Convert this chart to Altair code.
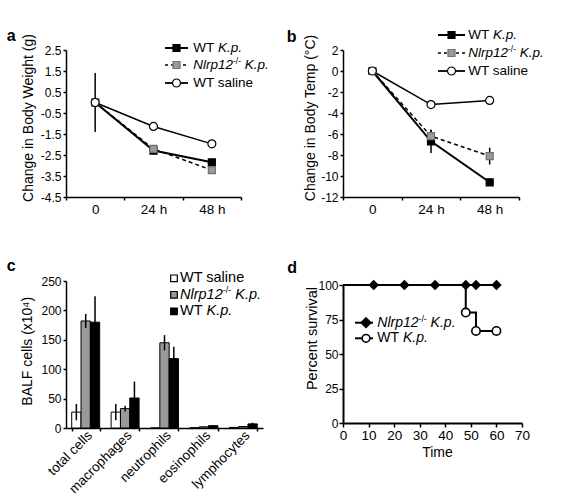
import altair as alt
import pandas as pd

FONT = "Liberation Sans"

# ---------------- data ----------------
time_labels = ["0", "24 h", "48 h"]

weight_wt_kp = [0.0, -2.29, -2.85]
weight_wt_kp_err = [0.0, 0.15, 0.15]
weight_nlrp = [0.0, -2.21, -3.22]
weight_nlrp_err = [0.0, 0.12, 0.12]
weight_saline = [0.0, -1.14, -1.97]
weight_saline_err = [1.4, 0.05, 0.05]

temp_wt_kp = [0.0, -6.7, -10.6]
temp_wt_kp_err = [0.0, 1.1, 0.3]
temp_nlrp = [0.0, -6.2, -8.1]
temp_nlrp_err = [0.0, 0.6, 0.8]
temp_saline = [0.0, -3.2, -2.8]
temp_saline_err = [0.15, 0.1, 0.1]

cell_types = ["total cells", "macrophages", "neutrophils", "eosinophils", "lymphocytes"]
group_order = ["WT saline", "Nlrp12-/- K.p.", "WT K.p."]
balf_saline = [27, 27, 0, 0.5, 1]
balf_saline_err = [14, 14, 0, 0, 0]
balf_nlrp = [182, 33, 145, 2, 2.5]
balf_nlrp_err = [12, 5, 13, 0.5, 0.5]
balf_wt_kp = [180, 51, 118, 4, 7]
balf_wt_kp_err = [44, 28, 20, 1, 2]

surv_nlrp_time = [0, 12, 24, 36, 48, 52, 60]
surv_nlrp = [100, 100, 100, 100, 100, 100, 100]
surv_nlrp_marker = [0, 1, 1, 1, 1, 1, 1]
surv_wt_time = [0, 48, 52, 60]
surv_wt = [100, 80, 66.7, 66.7]
surv_wt_marker = [0, 1, 1, 1]

weight_ticks = [-4.5, -3.5, -2.5, -1.5, -0.5, 0.5, 1.5, 2.5]
temp_ticks = [-12, -10, -8, -6, -4, -2, 0, 2]
balf_ticks = [0, 50, 100, 150, 200, 250]
surv_yticks = [0, 25, 50, 75, 100]
surv_xticks = [0, 10, 20, 30, 40, 50, 60, 70]

# ---------------- helpers ----------------
dummy = alt.Data(values=[{"k": 1}])
ADV = {'N': 722, 'l': 222, 'r': 333, 'p': 556, '1': 556, '2': 556, '-': 333, '/': 278,
       'K': 667, '.': 278, ' ': 278, 'W': 944, 'T': 611, 's': 500, 'a': 556, 'i': 222,
       'n': 556, 'e': 556}


def tw(s, fs):
    return sum(ADV.get(c, 556) for c in s) / 1000.0 * fs


LBL_WT_KP = [("WT", False, False, 0), ("K.p.", True, False, 1)]
LBL_NLRP = [("Nlrp12", True, False, 0), ("-/-", False, True, 0), ("K.p.", True, False, 1)]
LBL_SAL = [("WT saline", False, False, 0)]


def rich_text(parts, x0, y, fs):
    layers = []
    x = x0
    for txt, italic, sup, gap in parts:
        x += gap * 0.278 * fs
        size = fs * 0.62 if sup else fs
        yy = y - fs * 0.3 if sup else y
        layers.append(
            alt.Chart(dummy).mark_text(
                text=txt, align="left", baseline="middle", font=FONT, fontSize=size,
                fontStyle="italic" if italic else "normal", color="black"
            ).encode(x=alt.value(x), y=alt.value(yy))
        )
        x += tw(txt, size)
    return layers


def panel_label(txt, x, y):
    return alt.Chart(dummy).mark_text(
        text=txt, align="left", baseline="alphabetic", font=FONT, fontSize=16,
        fontWeight="bold", color="black"
    ).encode(x=alt.value(x), y=alt.value(y))


def seg(x1, x2, y, dash=None, width=1.8):
    kw = dict(color="black", strokeWidth=width)
    if dash:
        kw["strokeDash"] = dash
    return alt.Chart(dummy).mark_rule(**kw).encode(
        x=alt.value(x1), x2=alt.value(x2), y=alt.value(y))


def marker(x, y, shape, fill, stroke, size, sw=1.2):
    return alt.Chart(dummy).mark_point(
        shape=shape, filled=True, fill=fill, stroke=stroke, strokeWidth=sw,
        size=size, opacity=1
    ).encode(x=alt.value(x), y=alt.value(y))


STYLE = {
    "wt": dict(line=dict(color="black", strokeWidth=2.0),
               pt=dict(shape="square", fill="black", stroke="black", size=49)),
    "nl": dict(line=dict(color="black", strokeWidth=1.5, strokeDash=[4, 3]),
               pt=dict(shape="square", fill="#9a9a9a", stroke="#707070", size=49)),
    "sal": dict(line=dict(color="black", strokeWidth=1.5),
                pt=dict(shape="circle", fill="white", stroke="black", size=64)),
}

AX = dict(labelFont=FONT, titleFont=FONT, labelColor="black", titleColor="black",
          domainColor="black", tickColor="black", grid=False, titleFontWeight="normal")


def line_panel(series, ydom, yticks, ytitle, tx, ty, leg_rows, leg_x, label, lab_xy, w, h):
    rows = []
    for key, vals, errs in series:
        for i, (t, v, e) in enumerate(zip(time_labels, vals, errs)):
            rows.append(dict(series=key, t=i, time=t, value=v, lo=v - e, hi=v + e, err=e))
    df = pd.DataFrame(rows)
    xax = alt.Axis(title=None, labelAngle=0, tickBand="extent", labelFontSize=13.5,
                   tickSize=3, labelPadding=2, domainWidth=1.5, tickWidth=1.5, **AX)
    yax = alt.Axis(title=ytitle, values=yticks, labelExpr="datum.value + ''",
                   labelFontSize=12, tickSize=3, labelPadding=2, titleFontSize=14,
                   titleX=tx, titleY=ty, titleBaseline="alphabetic", titleAlign="center",
                   domainWidth=1.5, tickWidth=1.5, **AX)
    xs = alt.Scale(paddingInner=0, paddingOuter=0)
    ys = alt.Scale(domain=ydom, nice=False, zero=False)
    X = alt.X("time:N", sort=time_labels, bandPosition=0.5, scale=xs, axis=xax)
    layers = []
    for key in ["wt", "nl", "sal"]:
        sub = alt.Chart(df).transform_filter(alt.datum.series == key)
        layers.append(sub.mark_line(**STYLE[key]["line"]).encode(
            x=X, y=alt.Y("value:Q", scale=ys, axis=yax), order="t:Q"))
    for key in ["wt", "nl", "sal"]:
        sub = alt.Chart(df).transform_filter((alt.datum.series == key) & (alt.datum.err > 0))
        layers.append(sub.mark_rule(color="black", strokeWidth=1.5).encode(
            x=X, y=alt.Y("lo:Q", scale=ys, axis=yax), y2="hi:Q"))
    for key in ["wt", "nl", "sal"]:
        sub = alt.Chart(df).transform_filter(alt.datum.series == key)
        p = STYLE[key]["pt"]
        layers.append(sub.mark_point(filled=True, opacity=1, strokeWidth=1.2, **p).encode(
            x=X, y=alt.Y("value:Q", scale=ys, axis=yax)))
    # legend
    lx1, lx2, mx, txx = leg_x
    for key, lbl, yy in zip(["wt", "nl", "sal"], [LBL_WT_KP, LBL_NLRP, LBL_SAL], leg_rows):
        if key == "nl":
            layers.append(seg(lx1, lx2, yy, dash=[3, 3], width=1.5))
        else:
            layers.append(seg(lx1, lx2, yy, width=2.0 if key == "wt" else 1.8))
        p = STYLE[key]["pt"]
        layers.append(marker(mx, yy, p["shape"], p["fill"], p["stroke"], p["size"]))
        layers += rich_text(lbl, txx, yy, 13.5)
    layers.append(panel_label(label, *lab_xy))
    return alt.layer(*layers).properties(width=w, height=h)


# ---------------- panel a ----------------
anchor = alt.Chart(dummy).mark_rect(fill="white", opacity=0).encode(
    x=alt.value(-66), x2=alt.value(-62), y=alt.value(-50), y2=alt.value(-46))

pa = line_panel(
    [("wt", weight_wt_kp, weight_wt_kp_err), ("nl", weight_nlrp, weight_nlrp_err),
     ("sal", weight_saline, weight_saline_err)],
    [-4.5, 2.5], weight_ticks, "Change in Body Weight (g)", -34, 67.5,
    [-2, 15, 33], (99, 122, 110.5, 127.3), "a", (-59.3, -9.3), 175, 147)
pa = alt.layer(anchor, pa)

# ---------------- panel b ----------------
pb = line_panel(
    [("wt", temp_wt_kp, temp_wt_kp_err), ("nl", temp_nlrp, temp_nlrp_err),
     ("sal", temp_saline, temp_saline_err)],
    [-12, 2], temp_ticks, "Change in Body Temp (°C)", -28.5, 67.5,
    [-15, 3, 21], (95, 122, 108.5, 125.3), "b", (-56.3, -8.3), 176, 147)

# ---------------- panel c ----------------
crow = []
for g, vals, errs in [("WT saline", balf_saline, balf_saline_err),
                      ("Nlrp12-/- K.p.", balf_nlrp, balf_nlrp_err),
                      ("WT K.p.", balf_wt_kp, balf_wt_kp_err)]:
    for c, v, e in zip(cell_types, vals, errs):
        crow.append(dict(group=g, cell=c, mean=v, lo=v - e, hi=v + e, err=e))
dfc = pd.DataFrame(crow)

cx = alt.X("cell:N", sort=cell_types,
           scale=alt.Scale(paddingInner=0.29, paddingOuter=0.145),
           axis=alt.Axis(title=None, labelAngle=-45, labelAlign="right", labelBaseline="middle",
                         labelFontSize=13.5, tickBand="extent", tickSize=3, labelPadding=2,
                         labelOffset=4, domainWidth=1.5, tickWidth=1.5, **AX))
cxo = alt.XOffset("group:N", sort=group_order, scale=alt.Scale(paddingInner=0, paddingOuter=0))
cys = alt.Scale(domain=[0, 250], nice=False)
cyax = alt.Axis(title="BALF cells (x10⁴)", values=balf_ticks, labelFontSize=12, tickSize=3,
                labelPadding=2, titleFontSize=14, titleX=-34.5, titleY=69.8,
                titleBaseline="alphabetic", titleAlign="center", domainWidth=1.5, tickWidth=1.5,
                **AX)

bars = alt.Chart(dfc).mark_bar(stroke="black", strokeWidth=1).encode(
    x=cx, xOffset=cxo,
    y=alt.Y("mean:Q", scale=cys, axis=cyax),
    fill=alt.Fill("group:N", scale=alt.Scale(domain=group_order,
                                             range=["white", "#9a9a9a", "black"]), legend=None))
ebars = alt.Chart(dfc).transform_filter(alt.datum.err > 0).mark_rule(
    color="black", strokeWidth=1.5).encode(
    x=cx, xOffset=cxo, y=alt.Y("lo:Q", scale=cys, axis=cyax), y2="hi:Q")

clayers = [bars, ebars]
for fillc, lbl, yy in zip(["white", "#9a9a9a", "black"], [LBL_SAL, LBL_NLRP, LBL_WT_KP],
                          [-2.7, 13.8, 30.3]):
    clayers.append(marker(108, yy, "square", fillc, "black", 44, sw=1.2))
    clayers += rich_text(lbl, 114, yy, 14.5)
clayers.append(panel_label("c", -59.3, -10.3))
pc = alt.layer(*clayers).properties(width=197, height=147)

# ---------------- panel d ----------------
dfn = pd.DataFrame(dict(time=surv_nlrp_time, surv=surv_nlrp, mk=surv_nlrp_marker))
dfw = pd.DataFrame(dict(time=surv_wt_time, surv=surv_wt, mk=surv_wt_marker))
dxs = alt.Scale(domain=[0, 70], nice=False, zero=False)
dys = alt.Scale(domain=[0, 100], range=[142, 4], nice=False)
dxax = alt.Axis(title="Time", values=surv_xticks, labelFontSize=13.5, tickSize=4, labelPadding=1,
                titleFontSize=14, titleX=94, titleY=33, titleBaseline="alphabetic",
                titleAlign="center", domainWidth=2, tickWidth=1.5, labelFlush=False, **AX)
dyax = alt.Axis(title="Percent survival", values=surv_yticks, labelFontSize=12, tickSize=4,
                labelPadding=1, titleFontSize=14.5, titleX=-27, titleY=57,
                titleBaseline="alphabetic", titleAlign="center", domainWidth=2, tickWidth=1.5,
                **AX)
DX = alt.X("time:Q", scale=dxs, axis=dxax)
DY = alt.Y("surv:Q", scale=dys, axis=dyax)

dlayers = [
    alt.Chart(dfw).mark_line(interpolate="step-after", color="black", strokeWidth=2).encode(x=DX, y=DY),
    alt.Chart(dfn).mark_line(color="black", strokeWidth=2).encode(x=DX, y=DY),
    alt.Chart(dfn).transform_filter(alt.datum.mk == 1).mark_point(
        shape="diamond", filled=True, color="black", size=110, opacity=1).encode(x=DX, y=DY),
    alt.Chart(dfw).transform_filter(alt.datum.mk == 1).mark_point(
        shape="circle", filled=True, fill="white", stroke="black", strokeWidth=1.6,
        size=70, opacity=1).encode(x=DX, y=DY),
]
dlayers.append(seg(12, 30, 41.7, width=2))
dlayers.append(marker(23, 41.7, "diamond", "black", "black", 100))
dlayers += rich_text(LBL_NLRP, 34.3, 41.7, 14)
dlayers.append(seg(12, 30, 57.3, width=2))
dlayers.append(marker(23, 57.3, "circle", "white", "black", 60, sw=1.6))
dlayers += rich_text(LBL_WT_KP, 34.3, 57.3, 14)
dlayers.append(panel_label("d", -55.7, -8.3))
pd_ = alt.layer(*dlayers).properties(width=179, height=142)

chart = alt.concat(
    pa, pb, pc, pd_, columns=2, spacing={"row": 84, "column": 80},
    bounds="flush", align="all"
).properties(padding=0, background="white").configure_view(strokeWidth=0)

chart.save("out.html", embed_options={"renderer": "svg", "actions": False})
